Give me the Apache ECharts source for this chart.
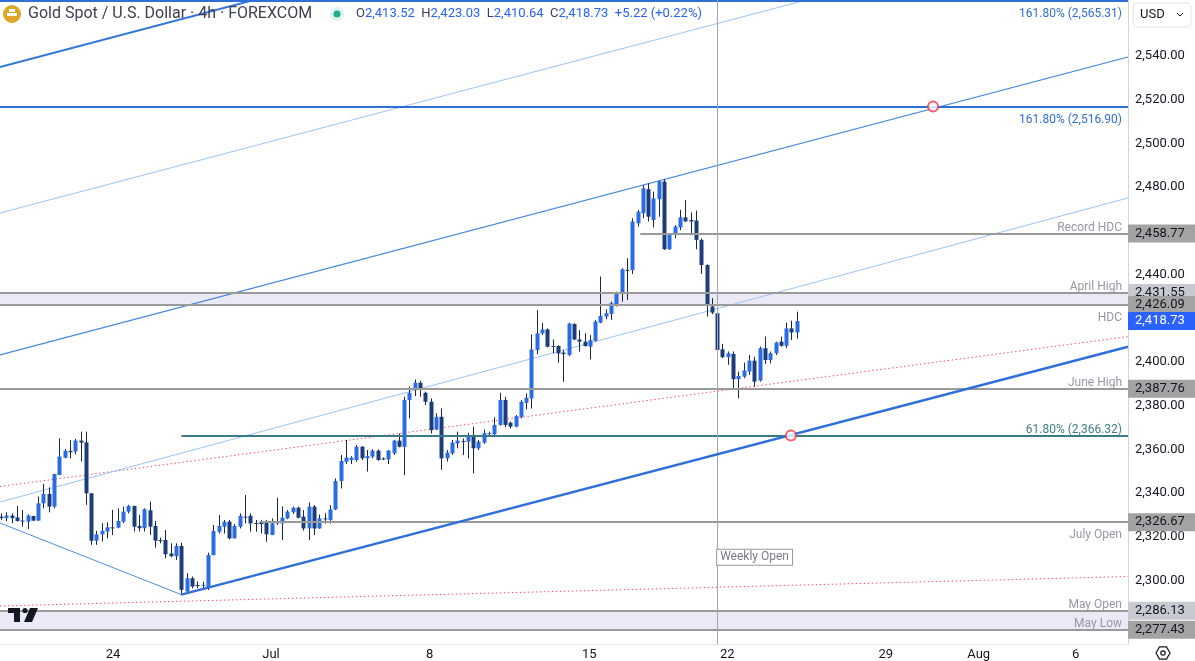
<!DOCTYPE html>
<html><head><meta charset="utf-8">
<script src="https://cdn.jsdelivr.net/npm/echarts@6/dist/echarts.min.js"></script>
<style>html,body{margin:0;padding:0;background:#fff;}#c{width:1195px;height:661px;}</style>
</head><body><div id="c"></div>
<script>
// ---------- DATA (4h bars) ----------
const openP = [2329.2,2328.5,2329.7,2328.8,2327.4,2326.9,2329.5,2327.4,2335.3,2339.6,
2333.8,2348.3,2356.2,2359.3,2359.0,2364.0,2363.2,2339.9,2318.2,2321.1,
2322.4,2324.3,2324.2,2326.9,2331.5,2334.1,2324.9,2323.9,2332.1,2324.9,
2318.5,2318.5,2312.3,2311.1,2315.8,2294.9,2301.0,2297.9,2297.9,2296.4,
2311.6,2322.3,2324.6,2326.9,2319.3,2324.6,2329.2,2329.6,2326.3,2326.9,
2326.9,2320.8,2326.4,2326.1,2328.4,2331.2,2333.3,2329.2,2323.8,2333.8,
2323.8,2328.4,2327.7,2332.5,2345.5,2354.3,2355.1,2355.1,2361.2,2355.9,
2356.7,2359.4,2355.9,2355.4,2358.2,2364.0,2361.2,2382.6,2387.1,2390.5,
2385.9,2381.8,2369.1,2374.9,2355.9,2358.2,2362.7,2363.8,2363.5,2366.6,
2360.5,2363.1,2367.2,2366.9,2371.2,2382.6,2372.2,2370.4,2374.9,2381.3,
2383.3,2405.4,2413.1,2414.9,2407.3,2407.3,2404.3,2403.2,2417.4,2410.3,
2409.3,2407.0,2409.7,2418.0,2420.8,2422.0,2426.1,2431.5,2442.1,2442.1,
2463.5,2468.1,2479.1,2465.0,2474.5,2482.6,2451.6,2458.2,2461.6,2466.2,
2465.0,2464.7,2455.9,2444.4,2425.4,2422.3,2405.8,2402.2,2403.7,2392.1,
2393.3,2395.6,2400.6,2391.5,2406.3,2400.9,2404.0,2409.3,2407.4,2415.4,
2413.52];
const highP = [2330.7,2331.2,2330.7,2334.1,2332.3,2330.3,2329.6,2338.4,2344.2,2342.6,
2348.8,2365.1,2360.2,2364.3,2364.8,2368.1,2368.1,2340.0,2322.7,2326.2,
2326.5,2332.3,2333.0,2333.8,2334.6,2334.2,2330.0,2333.0,2336.1,2327.2,
2319.6,2323.1,2317.0,2317.0,2317.3,2303.3,2301.8,2299.5,2299.4,2312.7,
2325.4,2329.9,2327.7,2327.7,2325.8,2330.7,2339.1,2330.7,2327.7,2327.7,
2327.7,2328.4,2337.9,2333.8,2332.2,2333.8,2333.8,2332.2,2335.7,2334.5,
2330.2,2330.7,2334.5,2346.7,2357.4,2364.3,2356.9,2362.0,2361.5,2359.7,
2360.1,2360.0,2356.3,2359.7,2364.3,2367.3,2384.1,2388.7,2392.0,2391.4,
2386.4,2383.3,2376.5,2378.7,2359.7,2364.3,2368.1,2365.0,2367.6,2370.4,
2364.3,2369.1,2368.1,2374.7,2385.9,2384.1,2372.7,2375.7,2382.6,2385.6,
2412.6,2423.7,2417.9,2415.4,2410.3,2407.7,2405.5,2418.0,2417.6,2414.6,
2413.1,2412.3,2419.2,2439.1,2424.1,2427.6,2432.2,2442.9,2447.5,2465.8,
2469.6,2481.0,2481.8,2478.0,2483.0,2483.7,2458.9,2462.7,2469.6,2474.1,
2468.4,2469.3,2456.6,2444.7,2429.2,2422.6,2408.3,2404.8,2404.8,2395.6,
2399.7,2403.2,2402.4,2407.0,2411.6,2404.8,2409.3,2411.6,2418.0,2418.9,
2423.03];
const lowP = [2327.7,2327.2,2326.2,2326.9,2324.6,2323.6,2327.2,2327.3,2333.0,2331.2,
2333.0,2348.2,2355.9,2355.9,2357.7,2354.4,2334.6,2316.3,2316.3,2317.8,
2319.3,2320.8,2323.9,2326.2,2330.7,2322.4,2322.4,2322.4,2320.8,2315.0,
2317.0,2310.1,2310.6,2309.4,2293.4,2294.1,2296.4,2296.4,2295.6,2295.6,
2311.5,2321.5,2321.5,2318.8,2319.2,2323.8,2326.1,2322.3,2322.3,2321.5,
2317.7,2320.7,2325.4,2318.5,2328.0,2330.4,2328.4,2322.8,2318.5,2320.8,
2323.7,2326.1,2326.1,2332.2,2342.1,2353.3,2353.3,2354.3,2355.1,2349.8,
2355.9,2354.8,2355.1,2353.3,2357.4,2360.9,2348.2,2374.2,2384.4,2384.1,
2380.3,2367.3,2368.8,2350.6,2354.4,2357.4,2360.5,2357.4,2355.9,2349.0,
2359.7,2362.5,2366.1,2366.6,2370.8,2370.1,2369.6,2370.1,2374.2,2378.3,
2378.7,2403.6,2412.3,2406.7,2403.9,2399.7,2390.9,2402.7,2410.0,2404.7,
2407.0,2401.2,2409.3,2417.7,2419.6,2419.3,2425.4,2427.6,2428.4,2440.3,
2462.0,2465.8,2464.3,2461.6,2466.5,2451.3,2451.3,2456.6,2460.4,2464.3,
2458.2,2451.6,2440.3,2420.8,2421.9,2404.8,2401.7,2398.7,2388.0,2383.4,
2392.6,2394.1,2388.7,2391.0,2399.1,2399.4,2403.2,2407.0,2406.3,2410.1,
2410.64];
const closeP = [2328.5,2329.7,2328.5,2327.2,2327.2,2329.7,2327.4,2335.3,2339.6,2333.8,
2348.7,2356.7,2359.3,2358.7,2364.0,2363.1,2339.9,2318.2,2321.1,2322.7,
2324.3,2324.2,2327.2,2331.5,2334.1,2324.6,2323.9,2332.6,2324.6,2318.2,
2318.4,2312.0,2311.1,2315.8,2295.7,2301.0,2297.2,2297.6,2298.0,2311.6,
2322.6,2324.9,2326.9,2319.3,2324.9,2329.6,2329.0,2326.1,2326.0,2325.8,
2321.1,2326.1,2326.6,2328.7,2331.5,2333.3,2328.7,2323.8,2333.8,2323.8,
2328.4,2328.0,2332.5,2345.5,2354.7,2356.2,2356.2,2361.2,2355.9,2356.9,
2359.4,2355.1,2355.8,2359.4,2364.0,2361.2,2382.6,2385.9,2390.5,2387.4,
2381.8,2368.8,2374.9,2355.9,2358.5,2363.1,2364.0,2363.7,2366.6,2360.5,
2363.5,2367.4,2367.4,2371.2,2382.6,2371.2,2370.4,2375.2,2381.8,2383.6,
2405.7,2413.1,2414.9,2407.0,2407.2,2403.9,2403.6,2417.6,2410.3,2409.3,
2407.3,2410.0,2418.5,2421.1,2422.3,2426.9,2431.5,2442.4,2441.9,2464.3,
2468.8,2479.5,2466.5,2474.9,2482.6,2451.6,2458.2,2462.0,2466.2,2464.3,
2464.3,2455.9,2444.4,2426.1,2422.6,2405.5,2402.2,2404.0,2392.1,2393.6,
2396.1,2400.6,2391.0,2406.3,2400.9,2404.0,2408.9,2407.4,2415.4,2413.51,
2418.73];

// time axis labels (bar-index positions)
const xTickPos = [22.1, 51.9, 81.8, 111.9, 137.9, 167.8, 185.3, 203.6];
const xTickLabels = ['24', 'Jul', '8', '15', '22', '29', 'Aug', '6'];
// price axis labels
const yTickValues = [2300, 2320, 2340, 2360, 2380, 2400, 2440, 2480, 2500, 2520, 2540];

// horizontal levels
const levelNames  = ['161.80% (2,565.31)', '161.80% (2,516.90)', 'Record HDC', 'April High', 'HDC', 'June High', '61.80% (2,366.32)', 'July Open', 'May Open', 'May Low'];
const levelPrices = [2565.31, 2516.90, 2458.77, 2431.55, 2426.09, 2387.76, 2366.32, 2326.67, 2286.13, 2277.43];
const levelStart  = [null, null, 121.5, null, null, null, 35, 50, null, null];
const levelTagged = [false, false, true, true, true, true, false, true, true, true];
const bandPairs = [[2431.55, 2426.09], [2286.13, 2277.43]];
const weeklyOpenBar = 136;
const weeklyOpenLabelPrice = 2310.6;

// trend / channel drawings: [barIndex, price]
const chLower   = [[35, 2293.5], [213.45, 2407.0]];
const chMedian  = [[0.81, 2335.9], [213.45, 2475.1]];
const chUpper   = [[0.81, 2403.2], [213.45, 2539.6]];
const chUpper2  = [[0.81, 2468.2], [213.45, 2604.6]];
const chUpper3  = [[0.81, 2535.0], [213.45, 2671.4]];
const leftLeg   = [[0.81, 2326.3], [35, 2293.5]];
const pinkUpper = [[0.81, 2343.0], [213.45, 2411.6]];
const pinkLower = [[0.81, 2288.3], [213.45, 2301.8]];
const circles   = [[176.7, 2516.90], [149.9, 2366.32]];

// ---------- CHART ----------
const X_MIN = 0.81, X_MAX = 213.45, Y_MIN = 2270.9, Y_MAX = 2565.7;
const FONT = 'Roboto, "Noto Sans", sans-serif';
const UP = '#2a6ce3', DOWN = '#1d3d7a', WICK = '#1b2640';
const fmt = v => v.toLocaleString('en-US', {minimumFractionDigits: 2, maximumFractionDigits: 2});

const candles = openP.map((o, k) => [k + 1, o, closeP[k], lowP[k], highP[k]]);

const levelStyle = [
  {c:'#2f6fd6', w:2, pos:'insideEndBottom', tc:'#2f6fd6'},
  {c:'#2f6fd6', w:2, pos:'insideEndBottom', tc:'#2f6fd6'},
  {c:'#9a9a9a', w:2, pos:'insideEndTop', tc:'#9598a1'},
  {c:'#9a9a9a', w:2, pos:'insideEndTop', tc:'#9598a1'},
  {c:'#9a9a9a', w:2, pos:'insideEndBottom', tc:'#9598a1'},
  {c:'#9a9a9a', w:2, pos:'insideEndTop', tc:'#9598a1'},
  {c:'#3a7b87', w:2, pos:'insideEndTop', tc:'#3f7f8c'},
  {c:'#9a9a9a', w:2, pos:'insideEndBottom', tc:'#9598a1'},
  {c:'#9a9a9a', w:2, pos:'insideEndTop', tc:'#9598a1'},
  {c:'#9a9a9a', w:2, pos:'insideEndTop', tc:'#9598a1'}
];

const levelLines = levelPrices.map((p, k) => {
  const s = levelStyle[k];
  const below = s.pos === 'insideEndBottom';
  return [
    {coord: [levelStart[k] == null ? X_MIN : levelStart[k], p],
     lineStyle: {color: s.c, width: s.w, type: 'solid'},
     label: {show: true, formatter: levelNames[k], position: s.pos, color: s.tc, fontSize: 12, fontFamily: FONT, distance: [6, below ? 7 : 0]}},
    {coord: [X_MAX, p]}
  ];
});
levelLines.push([
  {coord: [weeklyOpenBar, Y_MIN], lineStyle: {color: '#a3a6af', width: 1, type: 'solid'}, label: {show: false}},
  {coord: [weeklyOpenBar, Y_MAX]}
]);

function lineSeries(data, color, width, type, z) {
  return {type: 'line', data: data, symbol: 'none', clip: true, silent: true, z: z || 3,
    lineStyle: {color: color, width: width, type: type || 'solid'}, animation: false};
}

const chart = echarts.init(document.getElementById('c'));
chart.setOption({
  animation: false,
  textStyle: {fontFamily: FONT},
  grid: {left: 0, right: 67, top: 0, bottom: 17, containLabel: false},
  xAxis: {
    type: 'value', min: X_MIN, max: X_MAX,
    axisLine: {show: true, lineStyle: {color: '#e0e3eb'}},
    axisTick: {show: false}, splitLine: {show: false},
    axisLabel: {
      customValues: xTickPos, margin: 4, color: '#131722', fontSize: 13, fontFamily: FONT,
      formatter: v => { let b = 0; xTickPos.forEach((p, k) => { if (Math.abs(p - v) < Math.abs(xTickPos[b] - v)) b = k; }); return xTickLabels[b]; }
    }
  },
  yAxis: {
    type: 'value', position: 'right', min: Y_MIN, max: Y_MAX, scale: true,
    axisLine: {show: true, lineStyle: {color: '#d1d4dc'}},
    axisTick: {show: false}, splitLine: {show: false},
    axisLabel: {customValues: yTickValues, margin: 7, color: '#131722', fontSize: 13, fontFamily: FONT, formatter: v => fmt(v)}
  },
  series: [
    {
      type: 'line', data: [], silent: true, z: 2,
      markArea: {silent: true, itemStyle: {color: '#ebe9f5'}, data: bandPairs.map(b => [{yAxis: b[0]}, {yAxis: b[1]}])},
      markLine: {silent: true, symbol: ['none', 'none'], animation: false, data: levelLines},
      markPoint: {silent: true, symbol: 'rect', symbolSize: 0, animation: false, data: [{
        coord: [weeklyOpenBar, weeklyOpenLabelPrice],
        label: {show: true, position: 'right', distance: 0, formatter: 'Weekly Open', color: '#787b86', fontSize: 12, fontFamily: FONT,
          backgroundColor: '#ffffff', borderColor: '#9598a1', borderWidth: 1, padding: [2, 3, 1, 3]}
      }]}
    },
    lineSeries(pinkUpper, '#f2507a', 1, [1.5, 2.5]),
    lineSeries(pinkLower, '#f2507a', 1, [1.5, 2.5]),
    lineSeries(chMedian, '#9cc3f5', 1),
    lineSeries(chUpper2, '#9cc3f5', 1),
    lineSeries(chUpper, '#3f86dc', 1.2),
    lineSeries(chUpper3, '#3076dc', 2),
    lineSeries(leftLeg, '#4a8fe0', 1),
    {
      type: 'custom', data: candles, clip: true, z: 4,
      encode: {x: 0, y: [1, 2, 3, 4]},
      renderItem: function (params, api) {
        const x = api.value(0), o = api.value(1), c = api.value(2), l = api.value(3), h = api.value(4);
        const pO = api.coord([x, o]), pC = api.coord([x, c]), pL = api.coord([x, l]), pH = api.coord([x, h]);
        const cx = Math.round(pO[0]);
        const top = Math.min(pO[1], pC[1]), bot = Math.max(pO[1], pC[1]);
        const col = c >= o ? UP : DOWN;
        return {type: 'group', children: [
          {type: 'line', shape: {x1: cx + 0.5, y1: pH[1], x2: cx + 0.5, y2: pL[1]}, style: {stroke: WICK, lineWidth: 1}},
          {type: 'rect', shape: {x: cx - 1.5, y: top, width: 4, height: Math.max(bot - top, 1)}, style: {fill: col}}
        ]};
      }
    },
    lineSeries(chLower, '#2f6fdb', 2.5, 'solid', 5),
    {type: 'scatter', data: circles, symbol: 'circle', symbolSize: 10, z: 6, silent: true,
      itemStyle: {color: '#ffffff', borderColor: '#f23645', borderWidth: 2}}
  ]
});

// ---------- overlays (header, price tags, chrome) ----------
const n = closeP.length;
const chg = closeP[n - 1] - closeP[n - 2];
const pct = chg / closeP[n - 2] * 100;
const g = [];
// header
g.push({type: 'circle', shape: {cx: 12, cy: 14, r: 9}, style: {fill: '#e0a526'}, z: 20});
g.push({type: 'rect', shape: {x: 7, y: 13, width: 10, height: 3}, style: {fill: '#fff'}, z: 21});
g.push({type: 'rect', shape: {x: 9, y: 9, width: 6, height: 3}, style: {fill: '#fff'}, z: 21});
g.push({type: 'text', x: 28, y: 14, z: 20, style: {text: 'Gold Spot / U.S. Dollar · 4h · FOREXCOM', fill: '#3d4150', font: '16px ' + FONT, verticalAlign: 'middle'}});
g.push({type: 'circle', shape: {cx: 337, cy: 14, r: 7}, style: {fill: 'rgba(34,171,148,0.15)'}, z: 20});
g.push({type: 'circle', shape: {cx: 337, cy: 14, r: 3.5}, style: {fill: '#22ab94'}, z: 21});
g.push({type: 'text', x: 356, y: 14, z: 20, style: {
  text: '{o|O}{v|' + fmt(openP[n-1]) + '}  {o|H}{v|' + fmt(highP[n-1]) + '}  {o|L}{v|' + fmt(lowP[n-1]) + '}  {o|C}{v|' + fmt(closeP[n-1]) + '}  {v|+' + chg.toFixed(2) + ' (+' + pct.toFixed(2) + '%)}',
  verticalAlign: 'middle', font: '13px ' + FONT,
  rich: {o: {fill: '#3d4150', font: '13px ' + FONT}, v: {fill: '#2962ff', font: '13px ' + FONT}}
}});
// USD box
g.push({type: 'rect', shape: {x: 1133, y: 3, width: 58, height: 24, r: 4}, style: {fill: '#fff', stroke: '#e0e3eb', lineWidth: 1}, z: 20});
g.push({type: 'text', x: 1140, y: 15, z: 21, style: {text: 'USD', fill: '#131722', font: '13px ' + FONT, verticalAlign: 'middle'}});
g.push({type: 'polyline', shape: {points: [[1177, 13], [1180, 16], [1183, 13]]}, style: {stroke: '#131722', lineWidth: 1, fill: null}, z: 21});
// settings icon
const hex = []; for (let k = 0; k < 6; k++) { const a = Math.PI / 3 * k; hex.push([1163 + 7 * Math.cos(a), 653 + 7 * Math.sin(a)]); }
g.push({type: 'polygon', shape: {points: hex}, style: {stroke: '#131722', fill: null, lineWidth: 1.2}, z: 20});
g.push({type: 'circle', shape: {cx: 1163, cy: 653, r: 2.2}, style: {stroke: '#131722', fill: null, lineWidth: 1.2}, z: 20});
// TradingView logo
g.push({type: 'rect', shape: {x: 8, y: 608, width: 12, height: 5}, style: {fill: '#131722'}, z: 20});
g.push({type: 'rect', shape: {x: 14, y: 608, width: 6, height: 14}, style: {fill: '#131722'}, z: 20});
g.push({type: 'circle', shape: {cx: 25, cy: 610.5, r: 2.6}, style: {fill: '#131722'}, z: 20});
g.push({type: 'polygon', shape: {points: [[30, 608], [38, 608], [32, 622], [24, 622]]}, style: {fill: '#131722'}, z: 20});

// price tags on the axis
const tags = [];
levelPrices.forEach((p, k) => {
  if (!levelTagged[k]) return;
  const light = (p === 2431.55 || p === 2286.13);
  tags.push({p: p, bg: light ? '#c8cad1' : '#a3a3a3', fg: '#131722', ord: light ? 0 : 1});
});
tags.push({p: closeP[n - 1], bg: '#2962ff', fg: '#ffffff', ord: 2});
tags.sort((a, b) => a.ord - b.ord);
tags.forEach((t, k) => {
  const y = chart.convertToPixel({yAxisIndex: 0}, t.p);
  g.push({type: 'rect', shape: {x: 1128, y: y - 9, width: 67, height: 18}, style: {fill: t.bg}, z: 30 + k});
  g.push({type: 'text', x: 1135, y: y, z: 30 + k, style: {text: fmt(t.p), fill: t.fg, font: '13px ' + FONT, verticalAlign: 'middle'}});
});
chart.setOption({graphic: g});
</script></body></html>
